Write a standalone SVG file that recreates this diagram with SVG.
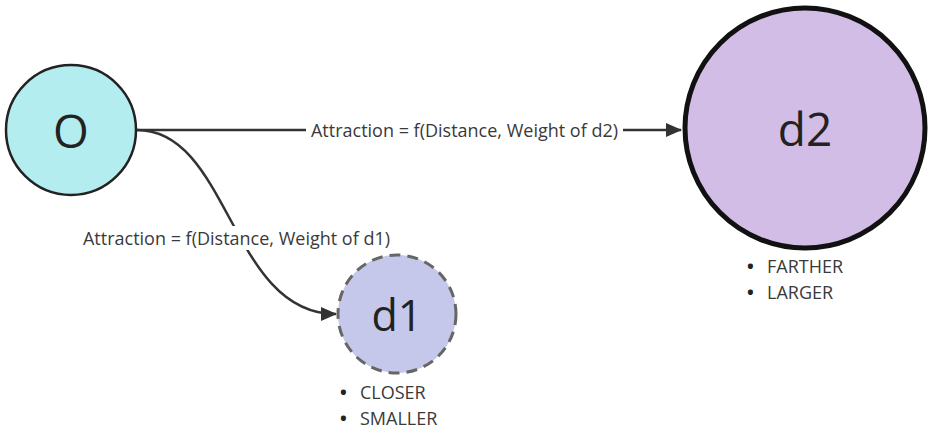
<svg xmlns="http://www.w3.org/2000/svg" width="929" height="430" viewBox="0 0 929 430">
  <style>
    text { font-family: "Open Sans", "Liberation Sans", sans-serif; fill: #333; }
    .node-label { font-size: 46px; fill: #222; text-anchor: middle; dominant-baseline: central; }
    .edge-label { font-size: 18px; fill: #3a3a3a; text-anchor: middle; dominant-baseline: central; }
    .note { font-size: 18px; fill: #3a3a3a; }
    .bullet { font-size: 18px; fill: #222; font-weight: bold; }
    .edge { fill: none; stroke: #333; stroke-width: 2.5; }
  </style>
  <defs>
    <marker id="arrow" markerWidth="16" markerHeight="14" refX="15" refY="7" orient="auto" markerUnits="userSpaceOnUse" viewBox="0 0 16 14">
      <path d="M0,0 L16,7 L0,14 Z" fill="#333"/>
    </marker>
  </defs>
  <rect width="929" height="430" fill="#ffffff"/>

  <g id="connectors">
    <path class="edge" d="M137,130 H681" marker-end="url(#arrow)"/>
    <path class="edge" d="M137,130 C230,130 230,314 336,314" marker-end="url(#arrow)"/>
    <rect x="306" y="118" width="317" height="24" fill="#ffffff"/>
    <text class="edge-label" x="464.5" y="130">Attraction = f(Distance, Weight of d2)</text>
    <rect x="77" y="226" width="319" height="24" fill="#ffffff"/>
    <text class="edge-label" x="236.5" y="238">Attraction = f(Distance, Weight of d1)</text>
  </g>

  <g id="node-o">
    <circle cx="71" cy="130" r="65" fill="#b3edf0" stroke="#222" stroke-width="2.5"/>
    <text class="node-label" x="71" y="130">O</text>
  </g>

  <g id="node-d1">
    <circle cx="397" cy="314" r="59" fill="#c5c8ea" stroke="#666" stroke-width="3" stroke-dasharray="11,7"/>
    <text class="node-label" x="397" y="314" style="font-size:43px">d1</text>
    <text class="bullet" x="340" y="399">•</text>
    <text class="note" x="360" y="399">CLOSER</text>
    <text class="bullet" x="340" y="425">•</text>
    <text class="note" x="360" y="425">SMALLER</text>
  </g>

  <g id="node-d2">
    <circle cx="805" cy="128" r="120" fill="#d1bde6" stroke="#111" stroke-width="5"/>
    <text class="node-label" x="805" y="128">d2</text>
    <text class="bullet" x="747" y="273">•</text>
    <text class="note" x="767" y="273">FARTHER</text>
    <text class="bullet" x="747" y="299">•</text>
    <text class="note" x="767" y="299">LARGER</text>
  </g>
</svg>
